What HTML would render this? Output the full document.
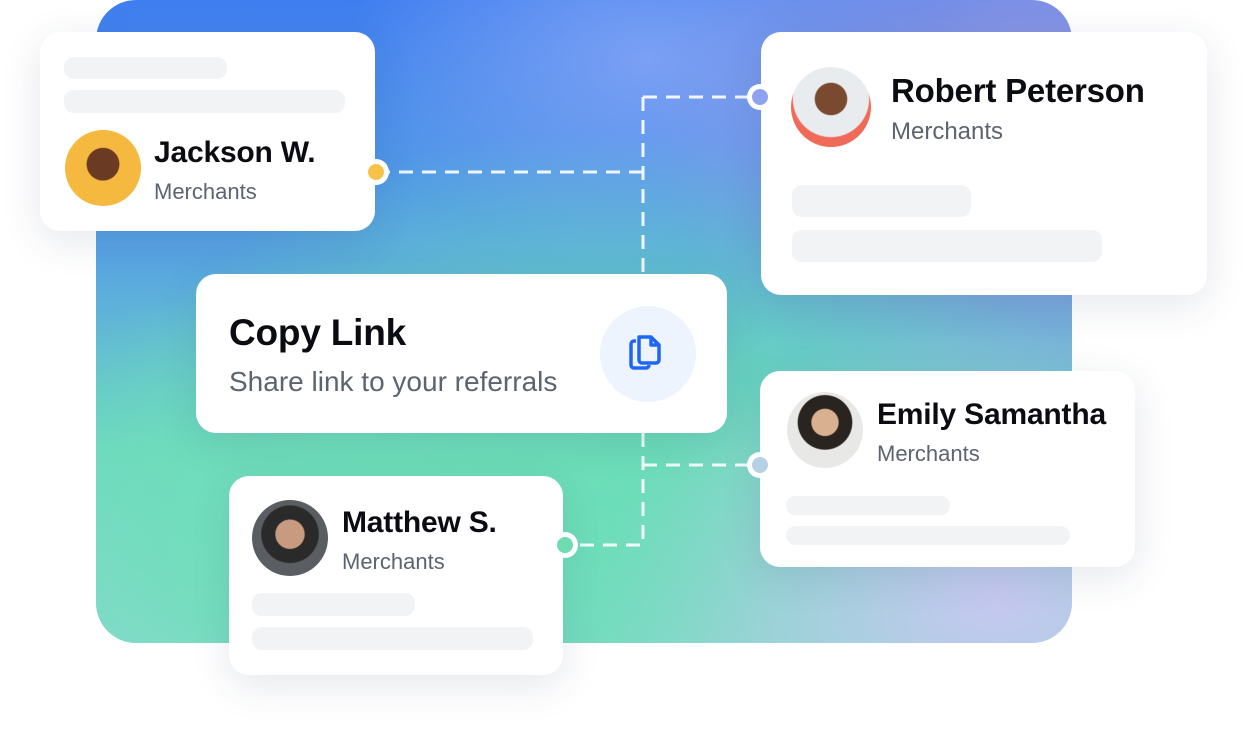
<!DOCTYPE html>
<html><head><meta charset="utf-8"><style>
*{margin:0;padding:0;box-sizing:border-box}
body{width:1255px;height:740px;background:#fff;position:relative;overflow:hidden;font-family:"Liberation Sans",sans-serif}
.bg{position:absolute;left:96px;top:0;width:976px;height:643px;border-radius:40px;overflow:hidden;
background:
radial-gradient(ellipse 420px 300px at 250px 560px,#6fe0b8 0%,rgba(111,224,184,0) 100%),
radial-gradient(ellipse 500px 350px at 900px 600px,#c6c8f0 0%,rgba(198,200,240,0) 80%),
radial-gradient(ellipse 500px 350px at 500px 480px,#6adcb8 0%,rgba(106,220,184,0) 100%),
radial-gradient(ellipse 400px 300px at 950px 120px,#a49ce0 0%,rgba(164,156,224,0) 100%),
radial-gradient(ellipse 300px 200px at 550px 60px,#7aa0f4 0%,rgba(122,160,244,0) 100%),
linear-gradient(180deg,#3f7ef0 0%,#58a4e2 40%,#6ed8c0 70%,#8ad8d0 100%);}
.card{position:absolute;background:#fff;border-radius:20px;box-shadow:0 10px 40px rgba(40,60,100,.12)}
.bar{position:absolute;background:#f2f3f5;border-radius:10px}
.av{position:absolute;border-radius:50%}
.name{position:absolute;font-weight:bold;color:#0b0b12;font-size:30px;white-space:nowrap;letter-spacing:-.2px}
.sub{position:absolute;color:#5c6470;font-size:22px;white-space:nowrap}
.dot{position:absolute;width:26px;height:26px;border-radius:50%;background:#fff}
.dot i{position:absolute;left:5px;top:5px;width:16px;height:16px;border-radius:50%}
</style></head><body>
<div class="bg"></div>
<svg style="position:absolute;left:0;top:0" width="1255" height="740">
<g stroke="#fff" stroke-width="3" fill="none" stroke-dasharray="14 9" opacity=".9">
<path d="M376 172 H643 M643 97 V274 M643 97 H760 M643 433 V545 H565 M643 465 H760"/>
</g></svg>

<div class="card" style="left:40px;top:32px;width:335px;height:199px">
<div class="bar" style="left:24px;top:25px;width:163px;height:22px"></div>
<div class="bar" style="left:24px;top:58px;width:281px;height:23px"></div>
<div class="av" style="left:25px;top:98px;width:76px;height:76px;background:radial-gradient(circle at 50% 45%,#6a3a22 0 28%,#f6b940 30%)"></div>
<div class="name" style="left:114px;top:104px">Jackson W.</div>
<div class="sub" style="left:114px;top:147px">Merchants</div>
</div>
<div class="dot" style="left:363px;top:159px"><i style="background:#f8c24a"></i></div>

<div class="card" style="left:761px;top:32px;width:446px;height:263px">
<div class="av" style="left:30px;top:35px;width:80px;height:80px;background:radial-gradient(circle at 50% 40%,#7a4a30 0 25%,#e9ecef 27% 60%,#f06a5a 62%)"></div>
<div class="name" style="left:130px;top:40px;font-size:33px">Robert Peterson</div>
<div class="sub" style="left:130px;top:86px;font-size:24px">Merchants</div>
<div class="bar" style="left:31px;top:153px;width:179px;height:32px"></div>
<div class="bar" style="left:31px;top:198px;width:310px;height:32px"></div>
</div>
<div class="dot" style="left:747px;top:84px"><i style="background:#8fa2f0"></i></div>

<div class="card" style="left:196px;top:274px;width:531px;height:159px">
<div class="name" style="left:33px;top:38px;font-size:37px">Copy Link</div>
<div class="sub" style="left:33px;top:92px;font-size:28px">Share link to your referrals</div>
<div class="av" style="left:404px;top:32px;width:96px;height:96px;background:#edf4fe"></div>
<svg style="position:absolute;left:430px;top:58px" width="44" height="44" viewBox="0 0 44 44" fill="none" stroke="#1f66f5" stroke-width="3.5" stroke-linejoin="round">
<path d="M10 9 H8 a3 3 0 0 0 -3 3 V33 a3 3 0 0 0 3 3 H20 a3 3 0 0 0 3 -3"/>
<path d="M13 5 H25 L33 13 V28 a3 3 0 0 1 -3 3 H16 a3 3 0 0 1 -3 -3 Z"/>
<path d="M25 5 V13 H33"/></svg>
</div>

<div class="card" style="left:760px;top:371px;width:375px;height:196px">
<div class="av" style="left:27px;top:21px;width:76px;height:76px;background:radial-gradient(circle at 50% 40%,#d9b090 0 22%,#2a2420 24% 45%,#e8e8e6 47%)"></div>
<div class="name" style="left:117px;top:27px">Emily Samantha</div>
<div class="sub" style="left:117px;top:70px">Merchants</div>
<div class="bar" style="left:26px;top:125px;width:164px;height:19px"></div>
<div class="bar" style="left:26px;top:155px;width:284px;height:19px"></div>
</div>
<div class="dot" style="left:747px;top:452px"><i style="background:#b6d0e4"></i></div>

<div class="card" style="left:229px;top:476px;width:334px;height:199px">
<div class="av" style="left:23px;top:24px;width:76px;height:76px;background:radial-gradient(circle at 50% 45%,#c89a80 0 25%,#2a2a2a 27% 50%,#5a5e62 52%)"></div>
<div class="name" style="left:113px;top:30px">Matthew S.</div>
<div class="sub" style="left:113px;top:73px">Merchants</div>
<div class="bar" style="left:23px;top:117px;width:163px;height:23px"></div>
<div class="bar" style="left:23px;top:151px;width:281px;height:23px"></div>
</div>
<div class="dot" style="left:552px;top:532px"><i style="background:#6edcb0"></i></div>
</body></html>
